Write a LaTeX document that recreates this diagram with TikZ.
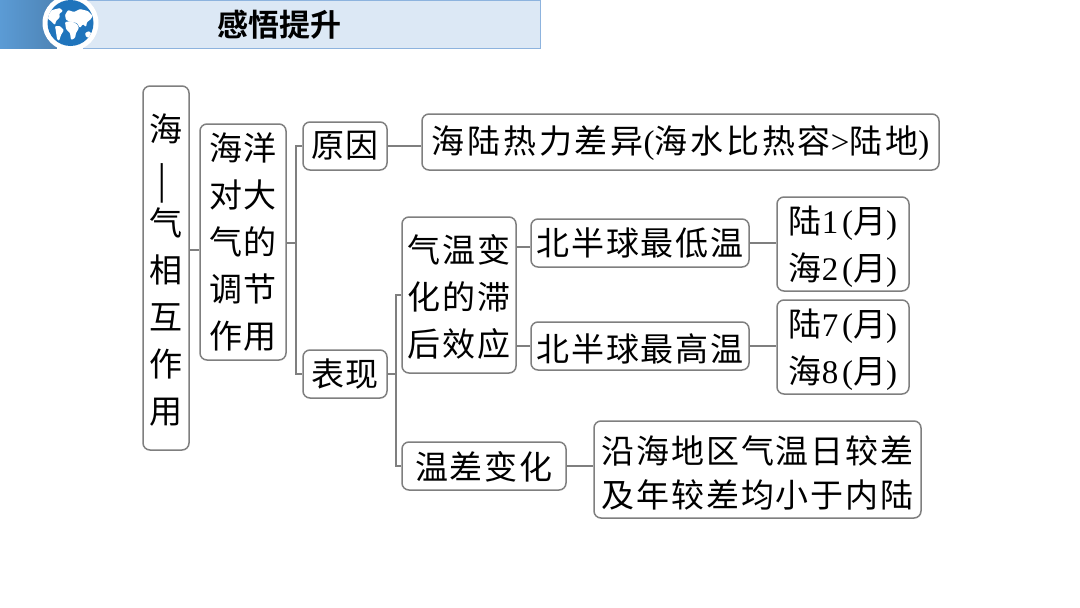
\documentclass[tikz,border=0pt]{standalone}
\usepackage{fontspec}
\usepackage{graphicx}
\setmainfont{Liberation Serif}
\newfontfamily\cjk{Noto Sans CJK SC}[LetterSpace=6]
\newfontfamily\cjkwide{Noto Sans CJK SC}[LetterSpace=8.5]
\newfontfamily\cjkb{Noto Sans CJK SC Bold}
\newfontfamily\latn{Liberation Serif}[LetterSpace=12]
\newcommand{\lt}[1]{{\latn #1}}
\newcommand{\tup}[1]{\rule{0pt}{#1pt}}
\definecolor{hdrlight}{HTML}{DCE8F5}
\definecolor{hdrdark}{HTML}{5B9BD5}
\definecolor{hdredge}{HTML}{8DB3DE}
\definecolor{globe}{HTML}{1F74BC}
\definecolor{boxedge}{HTML}{7F7F7F}
\tikzset{
  x=1pt,y=-1pt,
  cbox/.style={draw=boxedge,line width=1.5pt,rounded corners=7pt,fill=white,inner sep=0pt,
    align=center,font=\fontsize{33}{47}\cjk,text=black},
  link/.style={draw=boxedge,line width=1.5pt},
  land/.style={fill=white,draw=none,rounded corners=1pt},
}
\newcommand{\bx}[6]{%
 \node[cbox,minimum width=#4 pt - #2 pt,minimum height=#5 pt - #3 pt] (#1) at ({(#2+#4)/2},{(#3+#5)/2}) {#6};}
\begin{document}
\begin{tikzpicture}
\useasboundingbox (0,0) rectangle (1080,608);
\fill[white] (0,0) rectangle (1080,608);
% header
\fill[hdrlight] (0,0) rectangle (540,48);
\draw[hdredge,line width=1pt] (0,0.5) -- (540,0.5) -- (540,48) -- (0,48);
\fill[left color=hdrdark,right color=hdrdark!85!black] (0,0) rectangle (57,48);
\fill[white] (70.5,23) circle (28);
\fill[white] (57,40) rectangle (83,48.6);
\fill[globe] (70.5,23) circle (23);
\begin{scope}
\clip (70.5,23) circle (23);
% north america and greenland
\fill[land] (47,14) -- (52,10) -- (60,8) -- (63,11) -- (59,14) -- (60,17) -- (56,21) -- (55,25) -- (51,21) -- (48,19) -- cycle;
% south america
\fill[land] (55,26) -- (60,26) -- (64,30) -- (61,35) -- (59,41) -- (57,39) -- (56,32) -- cycle;
% eurasia
\fill[land] (65,15) -- (68,10) -- (74,12) -- (80,9) -- (88,11) -- (93,16) -- (90,20) -- (87,22) -- (86,27) -- (83,24) -- (80,28) -- (77,23) -- (72,22) -- (66,20) -- cycle;
% africa
\fill[land] (65,22) -- (71,21) -- (77,24) -- (79,28) -- (76,33) -- (75,38) -- (71,40) -- (70,33) -- (66,29) -- cycle;
% australia
\fill[land] (85,33) -- (89,31) -- (92,34) -- (91,38) -- (86,37) -- cycle;
\end{scope}
\node[font=\fontsize{31}{32}\cjkb,text=black,inner sep=0pt] (title) at (279,25) {感悟提升};
% boxes
\bx{sea}{143}{86}{189}{450}{\tup{31}海\\\rotatebox[origin=c]{90}{\scalebox{1.5}[1]{—}}\\气\\相\\互\\作\\用}
\bx{adj}{200}{124}{286}{360}{海洋\\对大\\气的\\调节\\作用}
\bx{why}{303}{122}{387}{170}{原因}
\bx{show}{303}{350}{387}{398}{表现}
\bx{diff}{422}{114}{939}{170}{\tup{31}\cjkwide 海陆热力差异\lt{(}海水比热容\lt{>}陆地\lt{)}}
\bx{lag}{402}{217}{516}{373}{\tup{32}气温变\\化的滞\\后效应}
\bx{low}{531}{219}{749}{267}{北半球最低温}
\bx{high}{531}{322}{749}{370}{\tup{33}北半球最高温}
\bx{jan}{777}{197}{909}{291}{\tup{34}陆\lt{1(}月\lt{)}\\海\lt{2(}月\lt{)}}
\bx{jul}{777}{300}{909}{394}{\tup{34}陆\lt{7(}月\lt{)}\\海\lt{8(}月\lt{)}}
\bx{range}{402}{442}{566}{490}{\tup{30}温差变化}
\bx{coast}{594}{421}{921}{518}{\tup{34}沿海地区气温日较差\\[-3pt]及年较差均小于内陆}
% connectors
\coordinate (busa) at (296,243);
\coordinate (busb) at (396,374);
\draw[link] (sea.east |- 0,250) -- (adj.west |- 0,250);
\draw[link] (adj.east |- busa) -- (busa);
\draw[link] (why.west |- 0,146) -| (busa |- show) -- (show.west);
\draw[link] (why) -- (diff.west |- why);
\draw[link] (show.east) -- (busb);
\draw[link] (lag.west) -| (busb |- range) -- (range.west);
\draw[link] (lag.east |- 0,247) -- (low.west |- 0,247);
\draw[link] (lag.east |- high) -- (high.west);
\draw[link] (low.east) -- (jan.west |- low);
\draw[link] (high.east) -- (jul.west |- high);
\draw[link] (range.east) -- (coast.west |- range);
\end{tikzpicture}
\end{document}
